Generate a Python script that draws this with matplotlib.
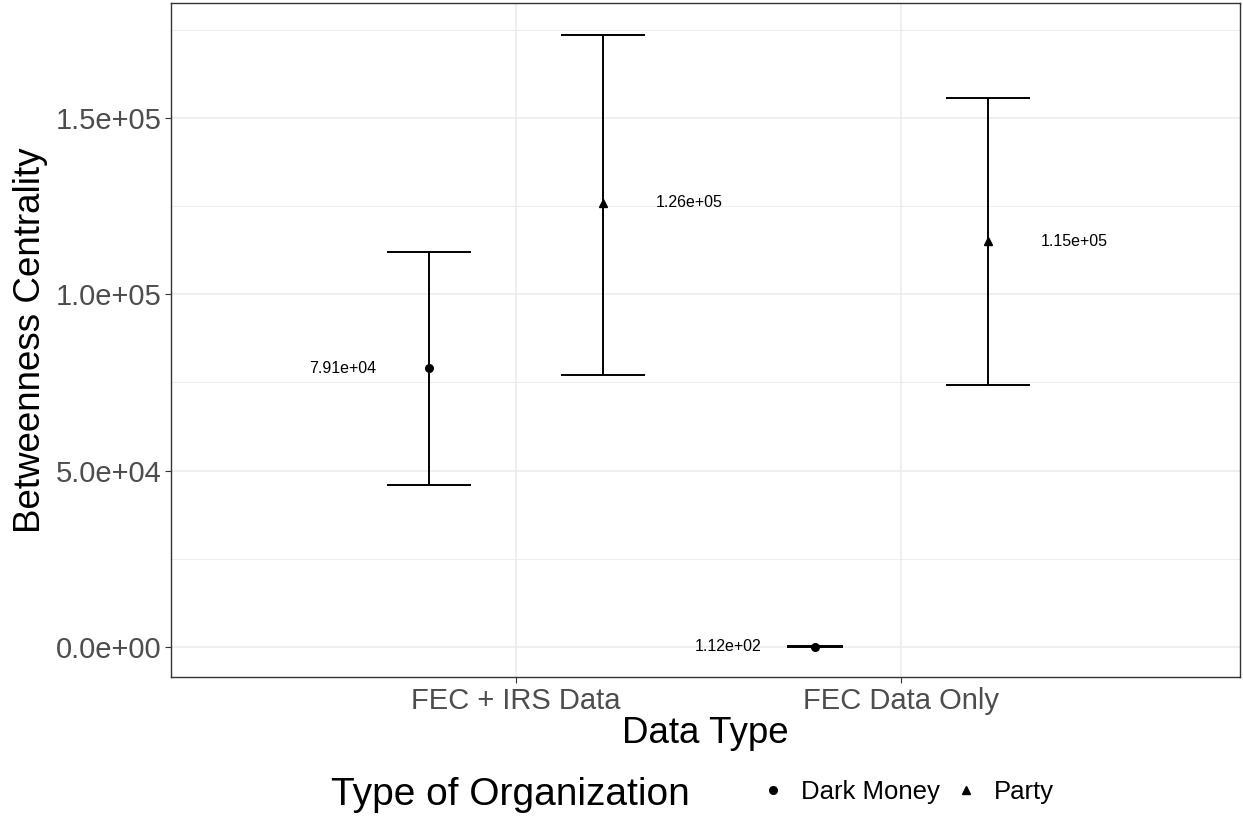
import matplotlib.pyplot as plt
from matplotlib.lines import Line2D

plt.rcParams['font.family'] = ['Liberation Sans', 'DejaVu Sans']

# data
data_types = ["FEC + IRS Data", "FEC Data Only"]
org_types = ["Dark Money", "Party"]
markers = {"Dark Money": "o", "Party": "^"}
means = {"Dark Money": [79100, 112], "Party": [126000, 115000]}
lows = {"Dark Money": [46000, 0], "Party": [77200, 74300]}
highs = {"Dark Money": [112000, 224], "Party": [173600, 155700]}
labels = {"Dark Money": ["7.91e+04", "1.12e+02"], "Party": ["1.26e+05", "1.15e+05"]}
dodge = {"Dark Money": -0.225, "Party": 0.225}
caps = {"Dark Money": [30, 20.5], "Party": [30, 30]}

fig = plt.figure(figsize=(12.43, 8.18), dpi=100)
ax = fig.add_axes([0.1376, 0.1724, 0.8600, 0.8239])

for org in org_types:
    for i, dt in enumerate(data_types):
        x = i + 1 + dodge[org]
        m = means[org][i]
        ax.errorbar(x, m, yerr=[[m - lows[org][i]], [highs[org][i] - m]],
                    fmt='none', ecolor='black', elinewidth=1.4,
                    capsize=caps[org][i], capthick=1.4, zorder=3)
        ax.plot(x, m, marker=markers[org], color='black', markersize=5.5,
                linestyle='none', zorder=4)
        ax.text(x + dodge[org], m, labels[org][i], ha='center', va='center',
                fontsize=11.5, color='black')

ax.set_xlim(0.104, 2.880)
ax.set_ylim(-8500, 182600)
ax.set_xticks([1, 2])
ax.set_xticklabels(data_types)
ax.set_yticks([0, 50000, 100000, 150000])
ax.set_yticklabels(["0.0e+00", "5.0e+04", "1.0e+05", "1.5e+05"])
ax.set_yticks([25000, 75000, 125000, 175000], minor=True)
ax.tick_params(axis='both', which='major', labelsize=21, colors='#333333',
               labelcolor='#4D4D4D', length=4, width=0.8, pad=3)
ax.tick_params(axis='y', which='minor', length=0)
ax.grid(True, which='major', color='#EBEBEB', linewidth=1.1, zorder=0)
ax.grid(True, which='minor', axis='y', color='#EBEBEB', linewidth=0.6, zorder=0)
ax.set_axisbelow(True)
for s in ax.spines.values():
    s.set_color('#333333')
    s.set_linewidth(1.0)

ax.set_xlabel("Data Type", fontsize=26.5, labelpad=1)
ax.set_ylabel("Betweenness Centrality", fontsize=26.5, labelpad=5)

# legend at the bottom, title on the left
fig.text(0.411, 0.0285, "Type of Organization", fontsize=28, ha='center', va='center')
handles = [Line2D([], [], marker=markers[o], color='black', linestyle='none',
                  markersize=5.5) for o in org_types]
fig.legend(handles, org_types, loc='center', bbox_to_anchor=(0.731, 0.032),
           ncol=2, frameon=False, fontsize=18.5, handlelength=0.8,
           handletextpad=0.7, columnspacing=0.6)

fig.savefig("out.png", dpi=100)
